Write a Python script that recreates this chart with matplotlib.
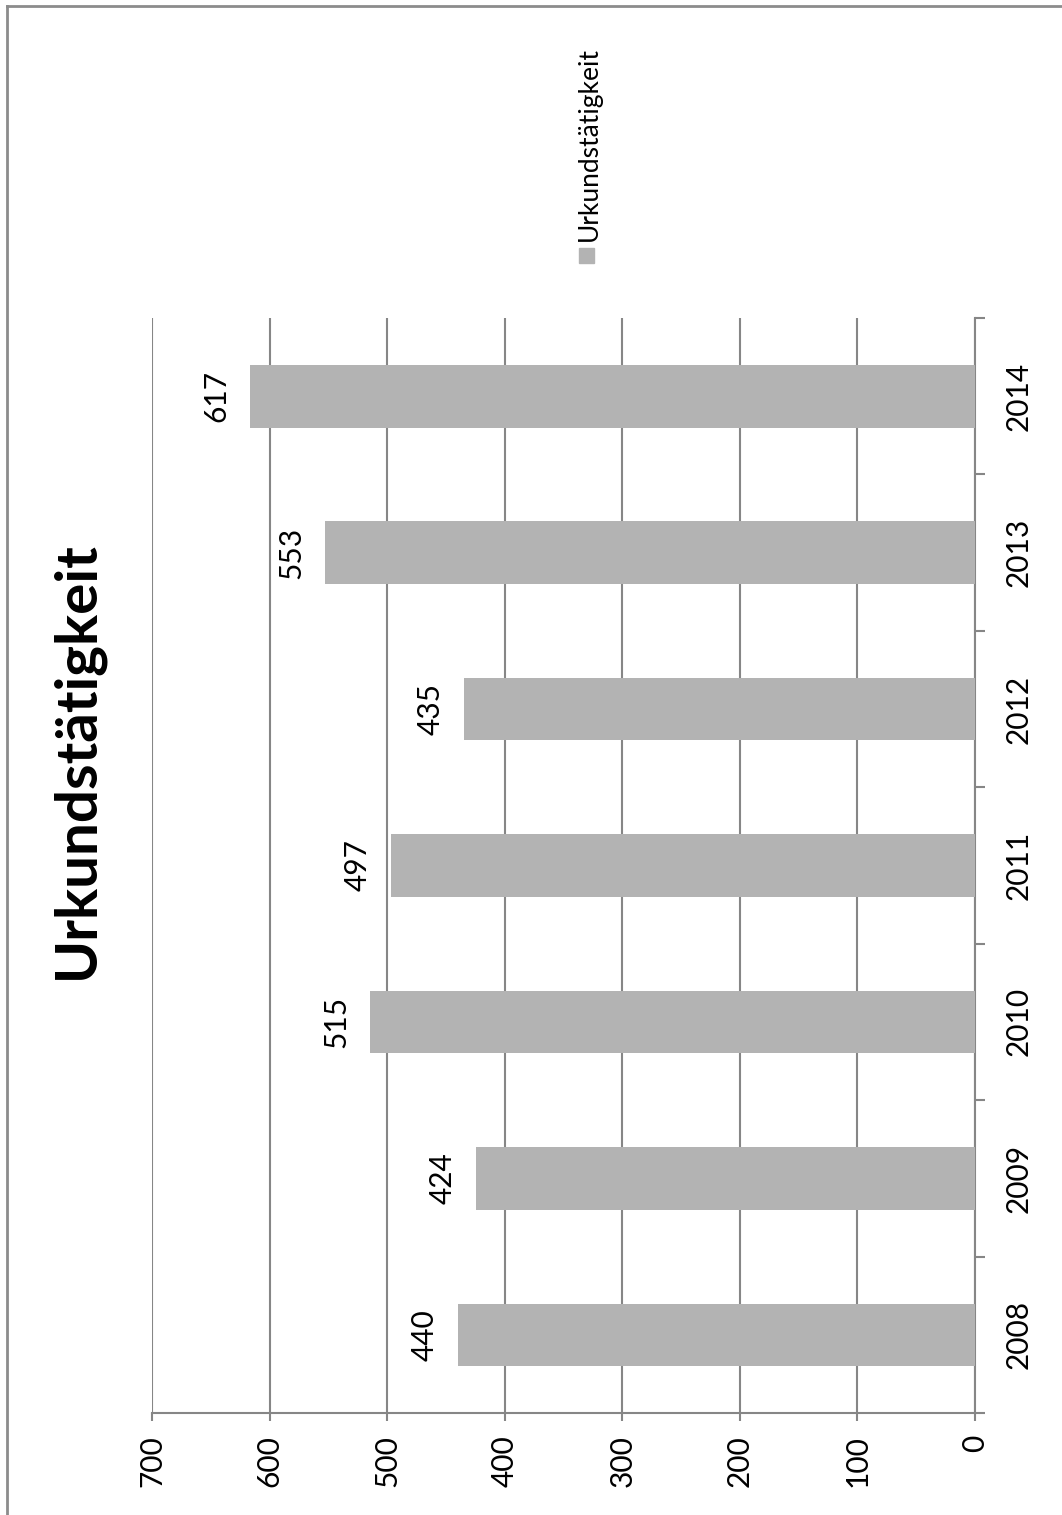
import matplotlib
matplotlib.use("Agg")
import matplotlib.pyplot as plt
from matplotlib.lines import Line2D
from matplotlib.patches import Rectangle
import numpy as np

years = ["2008", "2009", "2010", "2011", "2012", "2013", "2014"]
counts = [440, 424, 515, 497, 435, 553, 617]
value_ticks = [0, 100, 200, 300, 400, 500, 600, 700]
chart_title = "Urkundstätigkeit"
series_name = "Urkundstätigkeit"

BAR = "#b3b3b3"
GRID = "#868686"
FRAME = "#8c8c8c"

plt.rcParams["font.family"] = ["Lato", "DejaVu Sans"]

W, H = 1062, 1515
fig = plt.figure(figsize=(W / 100, H / 100), dpi=100)

# the page is turned on its side: values run right-to-left, years bottom-to-top
ax = fig.add_axes([152 / W, 1 - 1413 / H, 823 / W, 1095 / H])
pos = np.arange(len(years))
ax.barh(pos, counts, height=0.4, color=BAR, zorder=3)
ax.set_xlim(700, 0)
ax.set_ylim(-0.5, len(years) - 0.5)

ax.set_xticks(value_ticks)
ax.set_xticklabels([str(v) for v in value_ticks], rotation=90, fontsize=21.5)
ax.tick_params(axis="x", length=6, width=1.5, color=GRID, pad=10)
ax.xaxis.grid(True, color=GRID, linewidth=1.5, zorder=0)

ax.yaxis.tick_right()
ax.set_yticks(pos)
ax.set_yticklabels(years, rotation=90, fontsize=21.5, va="center")
ax.set_yticks(np.arange(-0.5, len(years)), minor=True)
ax.tick_params(axis="y", which="major", length=0, pad=21)
ax.tick_params(axis="y", which="minor", length=7.5, width=1.5, color=GRID)

for side in ("top", "left"):
    ax.spines[side].set_visible(False)
for side in ("right", "bottom"):
    ax.spines[side].set_color(GRID)
    ax.spines[side].set_linewidth(1.5)

for i, v in enumerate(counts):
    ax.annotate(str(v), xy=(v, pos[i]), xytext=(-24, 0), textcoords="offset points",
                rotation=90, ha="center", va="center", fontsize=21.5)

fig.text(77 / W, 1 - 760 / H, chart_title, rotation=90, ha="center", va="center",
         fontsize=42, fontweight="bold")

# legend entry
fig.patches.append(Rectangle((579 / W, 1 - 263 / H), 15 / W, 15 / H, transform=fig.transFigure,
                             color=BAR))
fig.text(589 / W, 1 - 241 / H, series_name, rotation=90, ha="center", va="bottom", fontsize=19)

# chart frame (top and left edges)
fig.add_artist(Line2D([7 / W, 1.01], [1 - 6 / H, 1 - 6 / H], color=FRAME, lw=2,
                      transform=fig.transFigure))
fig.add_artist(Line2D([7 / W, 7 / W], [-0.01, 1 - 6 / H], color=FRAME, lw=2,
                      transform=fig.transFigure))

fig.savefig("out.png", dpi=100)
